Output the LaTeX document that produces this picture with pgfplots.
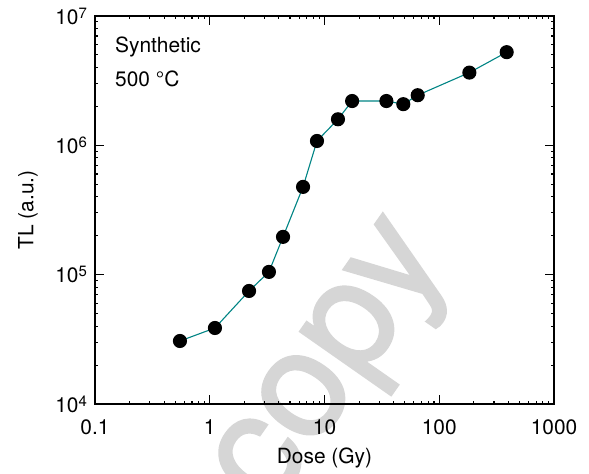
\documentclass[border=0pt]{standalone}
\usepackage{fontspec}
\setmainfont{TeX Gyre Heros}
\newfontfamily\wmfont[FakeBold=1.6]{TeX Gyre Heros}
\usepackage{pgfplots}
\pgfplotsset{compat=1.18}
\definecolor{lineteal}{RGB}{0,132,132}
\newcommand\ex[1]{10\raisebox{6bp}{\fontsize{15}{15}\selectfont #1}}
\begin{document}
\fontsize{21}{25}\selectfont
\begin{tikzpicture}[x=1bp,y=1bp]
\node[rotate=55, anchor=base, text=black!16, font=\wmfont\fontsize{150}{150}\selectfont, inner sep=0] at (264,20) {copy};
\begin{axis}[
  at={(0,0)}, anchor=south west,
  scale only axis, width=459bp, height=388bp,
  xmode=log, ymode=log,
  xmin=0.1, xmax=1000, ymin=1e4, ymax=1e7,
  xtick={0.1,1,10,100,1000}, xticklabels={0.1,1,10,100,1000},
  ytick={1e4,1e5,1e6,1e7},
  yticklabels={\ex{4},\ex{5},\ex{6},\ex{7}},
  minor xtick={}, minor ytick={},
  tick align=inside, major tick length=9bp,
  axis line style={line width=1.1bp},
  tick style={line width=1.1bp, black},
  xticklabel style={yshift=-9bp},
  yticklabel style={xshift=-1bp},
  ticklabel style={font=\fontsize{21}{25}\selectfont},
]
\addplot[lineteal, line width=1.1bp, mark=*, mark size=6.5bp, mark options={fill=black, draw=black, solid}] coordinates {
(0.55,3.07e4)
(1.11,3.87e4)
(2.2,7.48e4)
(3.28,1.05e5)
(4.35,1.96e5)
(6.5,4.77e5)
(8.6,1.08e6)
(13.1,1.59e6)
(17.4,2.20e6)
(34.6,2.20e6)
(48.6,2.08e6)
(64.9,2.44e6)
(183,3.65e6)
(387,5.25e6)
};
\end{axis}
\node[anchor=base west, inner sep=0] at (20,351) {Synthetic};
\node[anchor=base west, inner sep=0] at (20,317) {500 °C};
\node[rotate=90] at (-67,194) {TL (a.u.)};
\node at (229.5,-54) {Dose (Gy)};
\pgfresetboundingbox
\path[use as bounding box] (-95,-70) rectangle (494,404);
\end{tikzpicture}
\end{document}
